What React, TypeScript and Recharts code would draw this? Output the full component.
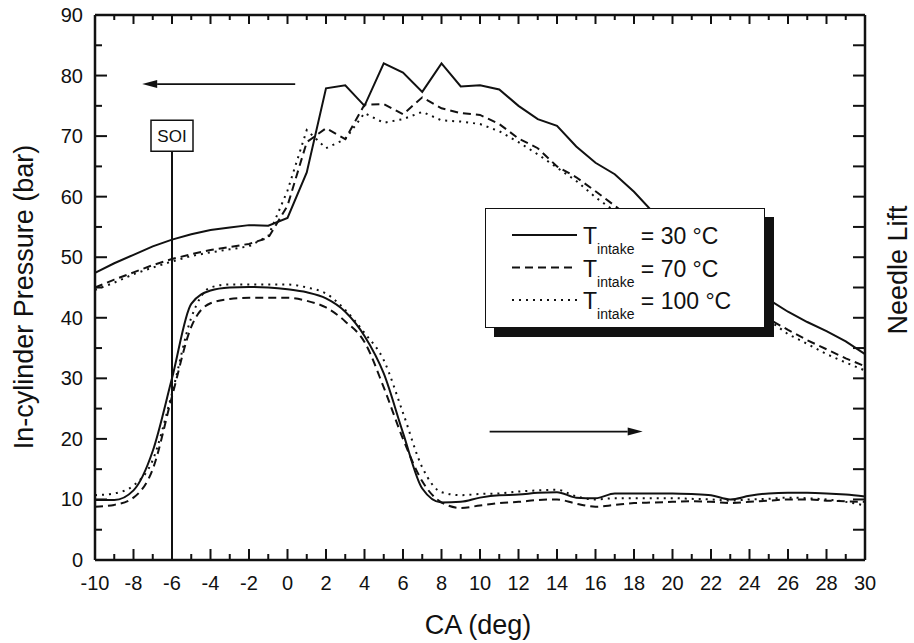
import React from "react";
import {
  LineChart,
  Line,
  XAxis,
  YAxis,
  Legend,
  ReferenceLine,
  Label,
} from "recharts";

// crank angle, deg
const crankAngle = [
  -10, -9, -8, -7, -6, -5, -4, -3, -2, -1, 0, 1, 2, 3, 4, 5, 6, 7, 8, 9, 10,
  11, 12, 13, 14, 15, 16, 17, 18, 19, 20, 21, 22, 23, 24, 25, 26, 27, 28, 29, 30,
];

// in-cylinder pressure, bar
const pressure30 = [
  47.4, 49.0, 50.4, 51.8, 52.9, 53.8, 54.5, 54.9, 55.3, 55.2, 56.5, 64.0, 77.9,
  78.4, 75.0, 82.0, 80.5, 77.3, 82.0, 78.2, 78.4, 77.7, 75.0, 72.8, 71.7, 68.3,
  65.6, 63.7, 60.8, 57.4, 55.0, 52.6, 50.2, 47.8, 45.5, 43.0, 41.0, 39.3, 37.8,
  36.1, 34.0,
];
const pressure70 = [
  45.0, 46.3, 47.5, 48.7, 49.7, 50.5, 51.2, 51.7, 52.2, 53.2, 58.5, 69.0, 71.3,
  69.5, 75.2, 75.3, 73.6, 76.4, 74.6, 73.8, 73.5, 72.0, 69.6, 68.0, 65.0, 63.2,
  60.9, 58.5, 56.1, 53.8, 51.5, 49.1, 46.8, 44.5, 42.1, 39.8, 38.0, 36.3, 34.8,
  33.3, 32.0,
];
const pressure100 = [
  44.6, 45.8, 47.2, 48.3, 49.3, 50.2, 50.8, 51.3, 51.8, 53.5, 61.0, 71.0, 68.0,
  69.5, 73.8, 72.2, 72.8, 74.0, 72.6, 72.4, 72.0, 70.8, 69.0, 67.0, 64.8, 62.6,
  59.9, 57.6, 55.3, 53.0, 50.7, 48.4, 46.2, 44.0, 41.8, 39.6, 37.3, 35.7, 34.0,
  32.6, 31.3,
];

// needle lift, plotted against the unlabelled right axis
const lift30 = [
  9.9, 9.9, 11.5, 18.0, 30.0, 42.3, 44.5, 45.0, 45.1, 45.0, 44.7, 44.2, 43.2,
  41.0, 37.0, 30.8, 21.0, 11.8, 9.5, 9.6, 10.3, 10.7, 10.8, 11.1, 11.2, 10.3,
  10.2, 11.0, 11.0, 11.0, 11.0, 10.9, 10.7, 10.0, 10.6, 11.0, 11.1, 11.1, 11.0,
  10.8, 10.5,
];
const lift70 = [
  8.8, 9.1, 10.3, 15.0, 27.0, 38.5, 42.4, 43.1, 43.3, 43.3, 43.3, 42.8, 41.7,
  39.4, 36.0, 28.5, 20.0, 13.0, 9.5, 8.6, 9.0, 9.4, 9.6, 9.9, 10.0, 9.3, 8.8,
  9.1, 9.4, 9.5, 9.6, 9.7, 9.6, 9.4, 9.6, 9.8, 10.0, 10.0, 9.8, 9.7, 9.6,
];
const lift100 = [
  10.7, 11.0, 12.3, 16.5, 27.5, 40.0, 45.0, 45.5, 45.5, 45.5, 45.5, 45.0, 44.0,
  41.3, 37.5, 33.0, 24.3, 15.3, 11.2, 10.7, 10.9, 11.0, 11.3, 11.5, 11.6, 10.5,
  10.0, 10.2, 10.2, 10.2, 10.2, 10.1, 10.0, 9.8, 10.0, 10.1, 10.3, 10.2, 10.0,
  9.6, 9.0,
];

const intakeTemps = ["30", "70", "100"];
const pressureKeys = ["p30", "p70", "p100"];
const dashPatterns = [undefined, "8 5", "2 5"];

const xTicks = [
  -10, -9, -8, -7, -6, -5, -4, -3, -2, -1, 0, 1, 2, 3, 4, 5, 6, 7, 8, 9, 10,
  11, 12, 13, 14, 15, 16, 17, 18, 19, 20, 21, 22, 23, 24, 25, 26, 27, 28, 29, 30,
];
const yTicks = [0, 5, 10, 15, 20, 25, 30, 35, 40, 45, 50, 55, 60, 65, 70, 75, 80, 85, 90];
const liftTicks = [5, 10, 15, 20, 25, 30, 35, 40, 45, 50, 55, 60, 65, 70, 75, 80, 85];

const soiAngle = -6;

const data = crankAngle.map((ca, i) => ({
  ca,
  p30: pressure30[i],
  p70: pressure70[i],
  p100: pressure100[i],
  n30: lift30[i],
  n70: lift70[i],
  n100: lift100[i],
}));

const INK = "#111";
const FONT = '"Liberation Sans", Arial, Helvetica, sans-serif';

// ticks point into the plot on every side
const BottomTick = ({ x, y, payload }: any) => {
  const major = payload.value % 2 === 0;
  return (
    <g>
      <line x1={x} y1={y} x2={x} y2={y - (major ? 11 : 6)} stroke={INK} strokeWidth={2} />
      {major && (
        <text x={x} y={y + 30} textAnchor="middle" fontSize={20} fill={INK} fontFamily={FONT}>
          {payload.value}
        </text>
      )}
    </g>
  );
};

const TopTick = ({ x, y, payload }: any) => {
  const major = payload.value % 2 === 0;
  return <line x1={x} y1={y} x2={x} y2={y + (major ? 9 : 5)} stroke={INK} strokeWidth={2} />;
};

const LeftTick = ({ x, y, payload }: any) => {
  const major = payload.value % 10 === 0;
  return (
    <g>
      <line x1={x} y1={y} x2={x + (major ? 12 : 7)} y2={y} stroke={INK} strokeWidth={2} />
      {major && (
        <text x={x - 12} y={y + 7} textAnchor="end" fontSize={20} fill={INK} fontFamily={FONT}>
          {payload.value}
        </text>
      )}
    </g>
  );
};

const RightTick = ({ x, y }: any) => (
  <line x1={x} y1={y} x2={x - 12} y2={y} stroke={INK} strokeWidth={2} />
);

const VerticalTitle = ({ x, y, text }: { x: number; y: number; text: string }) => (
  <text
    x={x}
    y={y}
    transform={`rotate(-90, ${x}, ${y})`}
    textAnchor="middle"
    fontSize={27}
    fill={INK}
    fontFamily={FONT}
  >
    {text}
  </text>
);

const Arrow = ({ x1, y1, x2, y2 }: any) => {
  const dir = Math.sign(x2 - x1);
  const head = 15;
  return (
    <g>
      <line x1={x1} y1={y1} x2={x2 - dir * head} y2={y2} stroke={INK} strokeWidth={1.8} />
      <polygon
        points={`${x2},${y2} ${x2 - dir * head},${y2 - 4} ${x2 - dir * head},${y2 + 4}`}
        fill={INK}
      />
    </g>
  );
};

const SoiMarker = ({ x1, y1, x2, y2 }: any) => (
  <g>
    <line x1={x1} y1={y1} x2={x2} y2={y2} stroke={INK} strokeWidth={2} />
    <rect x={x2 - 21} y={y2 - 31} width={42} height={31} fill="#fff" stroke={INK} strokeWidth={1.5} />
    <text x={x2} y={y2 - 9} textAnchor="middle" fontSize={17} fill={INK} fontFamily={FONT}>
      SOI
    </text>
  </g>
);

const LegendBox = () => (
  <div
    style={{
      width: 280,
      height: 120,
      boxSizing: "border-box",
      background: "#fff",
      border: `1.5px solid ${INK}`,
      boxShadow: `9px 9px 0 ${INK}`,
    }}
  >
    <svg width={277} height={117} style={{ display: "block" }}>
      {pressureKeys.map((key, i) => {
        const cy = 26 + i * 32.5;
        return (
          <g key={key}>
            <line
              x1={26}
              x2={91}
              y1={cy}
              y2={cy}
              stroke={INK}
              strokeWidth={2}
              strokeDasharray={dashPatterns[i]}
            />
            <text x={97} y={cy + 9} fontSize={23} fill={INK} fontFamily={FONT}>
              T
              <tspan fontSize={14} dy={10}>intake</tspan>
              <tspan dy={-10}> = {intakeTemps[i]} °C</tspan>
            </text>
          </g>
        );
      })}
    </svg>
  </div>
);

const App = () => {
  return (
    <div
      style={{
        position: "absolute",
        left: 0,
        top: 0,
        width: 914,
        height: 643,
        background: "#fff",
        fontFamily: FONT,
      }}
    >
      <LineChart
        width={914}
        height={643}
        data={data}
        margin={{ top: 0, right: 0, bottom: 0, left: 0 }}
      >
        <XAxis
          dataKey="ca"
          type="number"
          domain={[-10, 30]}
          ticks={xTicks}
          interval={0}
          height={83}
          tickSize={0}
          tickMargin={0}
          tick={<BottomTick />}
          axisLine={{ stroke: INK, strokeWidth: 2.5 }}
        >
          <Label
            content={() => (
              <text x={478} y={634} textAnchor="middle" fontSize={27} fill={INK} fontFamily={FONT}>
                CA (deg)
              </text>
            )}
          />
        </XAxis>
        <XAxis
          xAxisId="top"
          dataKey="ca"
          type="number"
          orientation="top"
          domain={[-10, 30]}
          allowDataOverflow
          ticks={xTicks}
          interval={0}
          height={15}
          tickSize={0}
          tickMargin={0}
          tick={<TopTick />}
          axisLine={{ stroke: INK, strokeWidth: 2.5 }}
        />
        <YAxis
          yAxisId="p"
          type="number"
          domain={[0, 90]}
          ticks={yTicks}
          interval={0}
          width={95}
          tickSize={0}
          tickMargin={0}
          tick={<LeftTick />}
          axisLine={{ stroke: INK, strokeWidth: 2.5 }}
        >
          <Label content={() => <VerticalTitle x={33} y={297} text="In-cylinder Pressure (bar)" />} />
        </YAxis>
        <YAxis
          yAxisId="lift"
          type="number"
          orientation="right"
          domain={[0, 90]}
          ticks={liftTicks}
          interval={0}
          width={49}
          tickSize={0}
          tickMargin={0}
          tick={<RightTick />}
          axisLine={{ stroke: INK, strokeWidth: 2.5 }}
        >
          <Label content={() => <VerticalTitle x={907} y={270} text="Needle Lift" />} />
        </YAxis>

        <Legend
          layout="horizontal"
          verticalAlign="middle"
          align="center"
          content={<LegendBox />}
          wrapperStyle={{ left: 485, top: 208, width: 280, height: 120 }}
        />

        <ReferenceLine
          yAxisId="p"
          segment={[
            { x: soiAngle, y: 0 },
            { x: soiAngle, y: 67.5 },
          ]}
          shape={<SoiMarker />}
        />
        <ReferenceLine
          yAxisId="p"
          segment={[
            { x: 0.4, y: 78.6 },
            { x: -7.55, y: 78.6 },
          ]}
          shape={<Arrow />}
        />
        <ReferenceLine
          yAxisId="p"
          segment={[
            { x: 10.5, y: 21.2 },
            { x: 18.45, y: 21.2 },
          ]}
          shape={<Arrow />}
        />

        {pressureKeys.map((key, i) => (
          <Line
            key={key}
            yAxisId="p"
            dataKey={key}
            name={intakeTemps[i]}
            type="linear"
            stroke={INK}
            strokeWidth={2}
            strokeDasharray={dashPatterns[i]}
            dot={false}
            isAnimationActive={false}
          />
        ))}

        <Line yAxisId="lift" dataKey="n30" legendType="none" type="monotone" stroke={INK} strokeWidth={2} dot={false} isAnimationActive={false} />
        <Line yAxisId="lift" dataKey="n70" legendType="none" type="monotone" stroke={INK} strokeWidth={2} strokeDasharray={dashPatterns[1]} dot={false} isAnimationActive={false} />
        <Line yAxisId="lift" dataKey="n100" legendType="none" type="monotone" stroke={INK} strokeWidth={2} strokeDasharray={dashPatterns[2]} dot={false} isAnimationActive={false} />
      </LineChart>
    </div>
  );
};

export default App;
